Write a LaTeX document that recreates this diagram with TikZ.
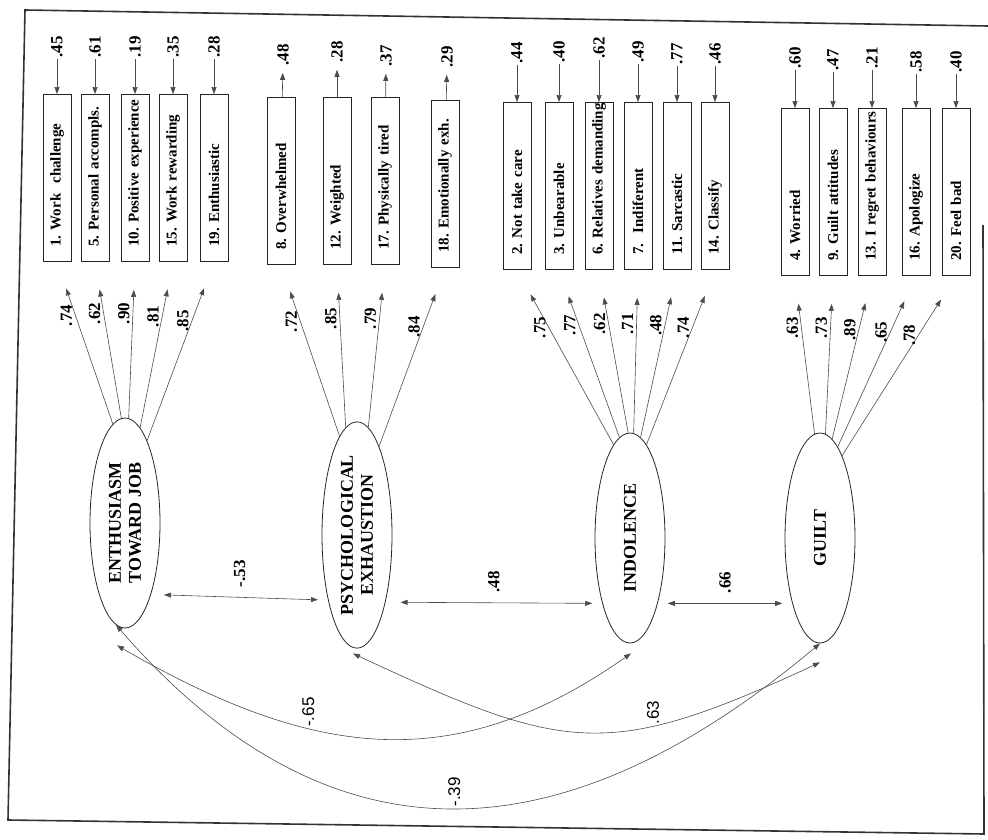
\documentclass[tikz,border=0pt]{standalone}
\usepackage{fontspec}
\setmainfont{Liberation Serif}
\newfontfamily\curvefont{Liberation Sans}
\usetikzlibrary{shapes.geometric, arrows.meta, calc}
\frenchspacing

\begin{document}
\begin{tikzpicture}
  [
    x=1pt, y=-1pt,
    >={Triangle[length=7pt, width=5pt]},
    Latent/.style={ellipse, draw=black!85, line width=0.8pt, rotate=90, minimum width=210pt, minimum height=70pt, inner sep=0pt, align=center, font=\fontsize{18}{20}\selectfont\bfseries},
    Item/.style={rectangle, draw=black!85, line width=0.8pt, rotate=90, minimum width=167pt, minimum height=28pt, inner sep=0pt, text width=137pt, align=left, font=\fontsize{15}{17}\selectfont\bfseries},
    Err/.style={rotate=90, inner sep=1pt, font=\fontsize{17}{19}\selectfont\bfseries},
    Load/.style={rotate=90, anchor=south, inner sep=3pt, pos=0.67, font=\fontsize{17}{19}\selectfont\bfseries},
    Cov/.style={rotate=90, anchor=west, inner sep=1pt, inner xsep=10pt, midway, font=\fontsize{17}{19}\selectfont\bfseries},
    Bend/.style={rotate=90, anchor=west, inner sep=1pt, font=\fontsize{17}{19}\selectfont\curvefont},
    Line/.style={draw=black!70, line width=0.6pt},
    Loading/.style={->, Line, shorten >=28pt}
  ]
  \useasboundingbox (0,0) rectangle (988,840);
  % Frame
  \coordinate (c1) at (25,10);
  \coordinate (c2) at (988,26);
  \coordinate (c3) at (984,834);
  \coordinate (c4) at (8,820);
  \coordinate (c5) at (983,225);
  \draw[line width=1.6pt, black!80] (c2) -- (c1) -- (c4) -- (c3) -- (c5);
  % Factors
  \node[Latent] (f1) at (125,523) {ENTHUSIASM\\TOWARD JOB};
  \node[Latent] (f2) at (357,535) {PSYCHOLOGICAL\\EXHAUSTION};
  \node[Latent] (f3) at (630,538) {INDOLENCE};
  \node[Latent] (f4) at (820,538) {GUILT};
  % Items
  \node[Item] (x1) at (57,178) {\mbox{1. Work\ \ challenge}};
  \node[Item] (x5) at (95,178) {\mbox{5. Personal accompls.}};
  \node[Item] (x10) at (135,178) {\mbox{10. Positive experience}};
  \node[Item] (x15) at (173,178) {\mbox{15. Work rewarding}};
  \node[Item] (x19) at (214,178) {\mbox{19. Enthusiastic}};
  \node[Item] (x8) at (281,181) {\mbox{8. Overwhelmed}};
  \node[Item] (x12) at (337,181) {\mbox{12. Weighted}};
  \node[Item] (x17) at (385,181) {\mbox{17. Physically tired}};
  \node[Item] (x18) at (445,184) {\mbox{18. Emotionally exh.}};
  \node[Item] (x2) at (517,186) {\mbox{2. Not take care}};
  \node[Item] (x3) at (559,186) {\mbox{3. Unbearable}};
  \node[Item] (x6) at (599,186) {\mbox{6. Relatives demanding}};
  \node[Item] (x7) at (638,186) {\mbox{7.\ \ Indiferent}};
  \node[Item] (x11) at (677,186) {\mbox{11. Sarcastic}};
  \node[Item] (x14) at (715,186) {\mbox{14. Classify}};
  \node[Item] (x4) at (795,192) {\mbox{4. Worried}};
  \node[Item] (x9) at (833,192) {\mbox{9. Guilt attitudes}};
  \node[Item] (x13) at (872,192) {\mbox{13. I regret behaviours}};
  \node[Item] (x16) at (916,192) {\mbox{16. Apologize}};
  \node[Item] (x20) at (956,192) {\mbox{20. Feel bad}};
  % Error terms
  \node[Err] (d1) at (57,47) {.45};
  \node[Err] (d5) at (95,47) {.61};
  \node[Err] (d10) at (135,47) {.19};
  \node[Err] (d15) at (173,47) {.35};
  \node[Err] (d19) at (214,47) {.28};
  \node[Err] (d8) at (283,55) {.48};
  \node[Err] (d12) at (337,52) {.28};
  \node[Err] (d17) at (386,56) {.37};
  \node[Err] (d18) at (447,57) {.29};
  \node[Err] (d2) at (517,53) {.44};
  \node[Err] (d3) at (559,52) {.40};
  \node[Err] (d6) at (599,48) {.62};
  \node[Err] (d7) at (638,52) {.49};
  \node[Err] (d11) at (677,54) {.77};
  \node[Err] (d14) at (715,54) {.46};
  \node[Err] (d4) at (795,58) {.60};
  \node[Err] (d9) at (833,60) {.47};
  \node[Err] (d13) at (872,58) {.21};
  \node[Err] (d16) at (916,62) {.58};
  \node[Err] (d20) at (956,62) {.40};
  % Error arrows
  \path [->, Line] (d1) -- (x1);
  \path [->, Line] (d5) -- (x5);
  \path [->, Line] (d10) -- (x10);
  \path [->, Line] (d15) -- (x15);
  \path [->, Line] (d19) -- (x19);
  \path [->, Line, shorten >=6pt] (x8) -- (d8);
  \path [->, Line, shorten >=6pt] (x12) -- (d12);
  \path [->, Line, shorten >=6pt] (x17) -- (d17);
  \path [->, Line, shorten >=6pt] (x18) -- (d18);
  \path [->, Line] (d2) -- (x2);
  \path [->, Line] (d3) -- (x3);
  \path [->, Line] (d6) -- (x6);
  \path [->, Line] (d7) -- (x7);
  \path [->, Line] (d11) -- (x11);
  \path [->, Line] (d14) -- (x14);
  \path [->, Line] (d4) -- (x4);
  \path [->, Line] (d9) -- (x9);
  \path [->, Line] (d13) -- (x13);
  \path [->, Line] (d16) -- (x16);
  \path [->, Line] (d20) -- (x20);
  % Loadings
  \path [Loading] (f1.7) -- (x1.west) node[Load] {.74};
  \path [Loading] (f1.2) -- (x5.west) node[Load] {.62};
  \path [Loading] (f1.-2) -- (x10.west) node[Load] {.90};
  \path [Loading] (f1.-9) -- (x15.west) node[Load] {.81};
  \path [Loading] (f1.-15) -- (x19.west) node[Load] {.85};
  \path [Loading] (f2.10) -- (x8.west) node[Load] {.72};
  \path [Loading] (f2.6) -- (x12.west) node[Load] {.85};
  \path [Loading] (f2.-6) -- (x17.west) node[Load] {.79};
  \path [Loading] (f2.-14) -- (x18.west) node[Load] {.84};
  \path [Loading] (f3.10) -- (x2.west) node[Load] {.75};
  \path [Loading] (f3.6) -- (x3.west) node[Load] {.77};
  \path [Loading] (f3.1) -- (x6.west) node[Load] {.62};
  \path [Loading] (f3.-2) -- (x7.west) node[Load] {.71};
  \path [Loading] (f3.-6) -- (x11.west) node[Load] {.48};
  \path [Loading] (f3.-10) -- (x14.west) node[Load] {.74};
  \path [Loading] (f4.3) -- (x4.west) node[Load] {.63};
  \path [Loading] (f4.-3) -- (x9.west) node[Load] {.73};
  \path [Loading] (f4.-7) -- (x13.west) node[Load] {.89};
  \path [Loading] (f4.-11) -- (x16.west) node[Load] {.65};
  \path [Loading] (f4.-15) -- (x20.west) node[Load] {.78};
  % Correlations
  \path [<->, Line, shorten <=13pt, shorten >=10pt] (f1.-160) -- (f2.156) node[Cov] {-.53};
  \path [<->, Line, shorten <=15pt, shorten >=10pt] (f2.-157) -- (f3.157) node[Cov] {.48};
  \path [<->, Line, shorten <=10pt, shorten >=10pt] (f3.-157) -- (f4.157) node[Cov] {.66};
  \path [<->, Line] ($(f1.west)+(-8,17)$) .. controls +(191,110) and +(-181,127) .. ($(f3.west)+(1,10)$) node[Bend, pos=0.36] {-.65};
  \path [<->, Line] ($(f2.west)+(-4,5)$) .. controls +(213,99) and +(-213,99) .. ($(f4.west)+(0,19)$) node[Bend, pos=0.67] {.63};
  \path [<->, Line] (f1.175) .. controls +(217,250) and +(-254,213) .. (f4.west) node[Bend, pos=0.5] {-.39};
\end{tikzpicture}
\end{document}
